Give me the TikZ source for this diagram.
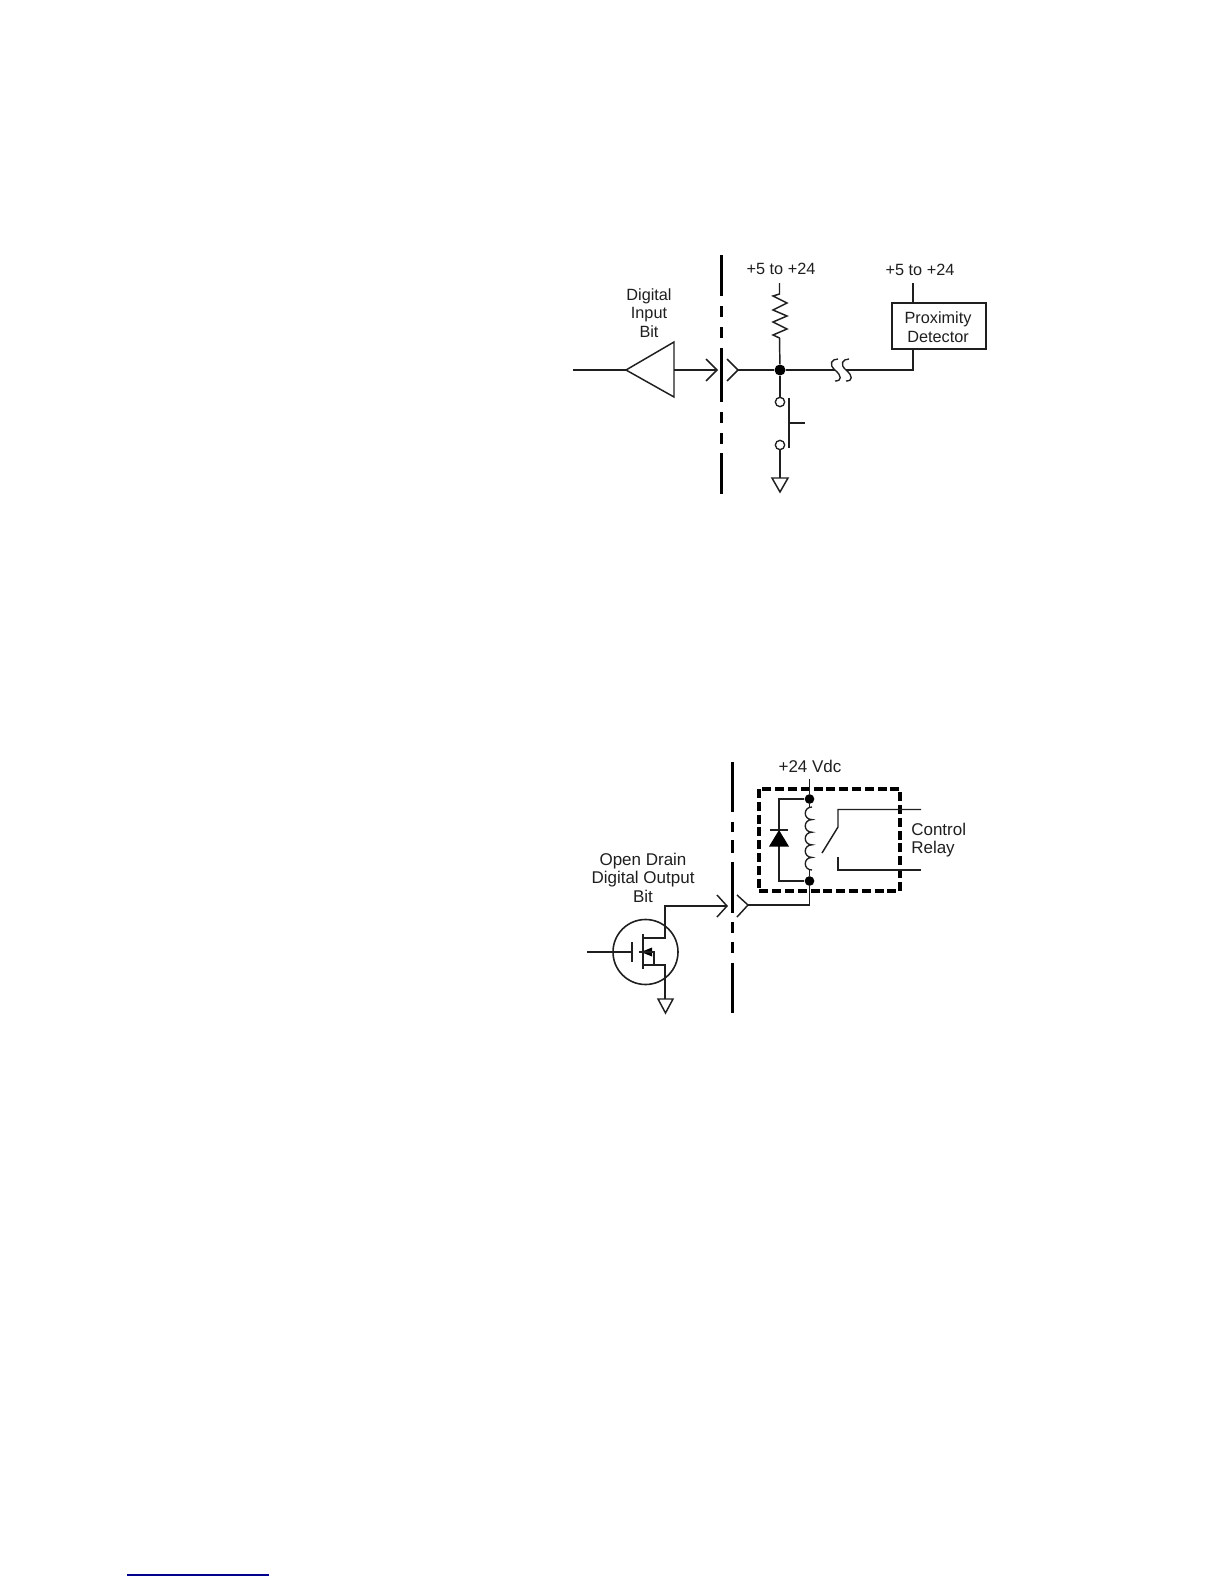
\documentclass[tikz,border=0pt]{standalone}
\usepackage{fontspec}
\setmainfont{Liberation Sans}
\definecolor{ink}{gray}{0.12}
\definecolor{linkblue}{RGB}{0,0,140}
\tikzset{
  wire/.style={draw=ink,line width=1.1pt,line join=miter},
  thin wire/.style={draw=ink,line width=1pt},
  heavy/.style={draw=black,line width=2.5pt},
  dot/.style={circle,fill=black,draw=none,minimum size=8.25pt,inner sep=0pt},
  smalldot/.style={circle,fill=black,draw=none,minimum size=7.25pt,inner sep=0pt},
  pin/.style={circle,draw=ink,fill=white,line width=1pt,minimum size=7pt,inner sep=0pt},
  lbl/.style={font=\fontsize{12.2}{13.9}\selectfont,align=center,inner sep=0pt,text=ink},
  lblb/.style={font=\fontsize{12.75}{13.9}\selectfont,align=center,inner sep=0pt,text=ink},
  lbll/.style={font=\fontsize{12.75}{13.9}\selectfont,align=left,inner sep=0pt,text=ink},
  box/.style={draw=ink,line width=1.2pt,rectangle,inner sep=0pt},
  dashbox/.style={draw=black,line width=2.5pt,dash pattern=on 6.8pt off 2.8pt}
}
\begin{document}
\begin{tikzpicture}[x=0.75pt,y=-0.75pt]
\useasboundingbox (0,0) rectangle (1224,1584);
% ---- upper diagram ----
\foreach \a/\b in {255/296,306/317,327/338,348/402,412/423,433/444,453/494}
  \draw[heavy] (721.5,\a) -- (721.5,\b);
\coordinate (inL) at (573,370);
\coordinate (triA) at (626,370);
\coordinate (triT) at (674,342);
\coordinate (triB) at (674,397);
\coordinate (triO) at (674,370);
\coordinate (chevL) at (717,370);
\coordinate (chevR) at (738,370);
\node[dot] (J1) at (780,370) {};
\node[pin] (P1) at (780,402) {};
\node[pin] (P2) at (780,445) {};
\node[box,minimum width=70.5pt,minimum height=34.5pt] (PD) at (939,326) {};
\node[lbl] (PDt) at (938,327) {Proximity\\Detector};
\coordinate (PDbot) at (913,349);
\coordinate (PDtop) at (913,303);
\coordinate (PDvcc) at (913,283);
\coordinate (PDcorner) at (913,370);
\draw[wire] (inL) -- (triA);
\draw[wire] (triA) -- (triT) -- (triB) -- cycle;
\draw[wire] (triO) -- (chevL);
\draw[wire] (706,359) -- (chevL) -- (706,381);
\draw[wire] (727,359) -- (chevR) -- (727,381);
\draw[wire] (chevR) -- (J1);
\draw[wire] (779.5,283) -- (779.5,294) -- (773,296) -- (787,303) -- (773,310) -- (787,316) -- (773,322) -- (787,329) -- (773,335) -- (779.5,338) -- (J1);
\draw[wire] (J1) -- (P1);
\draw[wire] (P2) -- (780,478);
\draw[wire] (772,478) -- (788,478) -- (780,492) -- cycle;
\draw[wire] (789,398) -- (789,448);
\draw[wire] (789,423) -- (805,423);
\draw[wire] (J1) -- (835,370);
\draw[thin wire] (838,359) .. controls (832,359) and (828,364) .. (835,370) .. controls (842,376) and (842,381) .. (835,381);
\draw[thin wire] (849,359) .. controls (843,359) and (839,364) .. (846,370) .. controls (853,376) and (853,381) .. (846,381);
\draw[wire] (846,370) -- (PDcorner) -- (PDbot);
\draw[wire] (PDvcc) -- (PDtop);
\node[lbl] (V1) at (781,269) {+5 to +24};
\node[lbl] (V2) at (920,270) {+5 to +24};
\node[lbl] (DI) at (649,313) {Digital\\Input\\Bit};
% ---- lower diagram ----
\foreach \a/\b in {762/812,822/832,840/853,862/913,922/933,942/953,963/1013}
  \draw[heavy] (732.5,\a) -- (732.5,\b);
\node[draw=ink,line width=1.2pt,circle,minimum size=48.75pt,inner sep=0pt] (Q) at (645.5,952) {};
\coordinate (gateIn) at (587,952);
\coordinate (gate) at (632,952);
\draw[wire] (gateIn) -- (gate);
\draw[wire] (632,942) -- (632,962);
\draw[wire] (643,934) -- (643,969);
\draw[wire] (643,938) -- (665,938) -- (665,906) -- (727,906);
\draw[wire] (717,895) -- (727,906) -- (717,917);
\draw[wire] (737,895) -- (748,905) -- (737,917);
\fill[black] (641,952) -- (652,947.5) -- (652,956.5) -- cycle;
\draw[wire] (639,952) -- (654,952) -- (654,965);
\draw[wire] (643,965) -- (665,965) -- (665,999);
\draw[wire] (658,999) -- (673,999) -- (665.5,1013) -- cycle;
\draw[dashbox] (759,789) rectangle (900,891);
\node[smalldot] (Ttop) at (809.5,799) {};
\node[smalldot] (Tbot) at (809.5,881) {};
\coordinate (Vcc) at (809.5,779);
\coordinate (chev2) at (748,905);
\coordinate (corner2) at (809.5,905);
\draw[wire] (chev2) -- (corner2) -- (Tbot);
\draw[wire] (Vcc) -- (Ttop);
\draw[wire] (Ttop) -- (779,799) -- (779,830);
\draw[wire] (779,846) -- (779,881) -- (Tbot);
\draw[wire] (770,830) -- (788,830);
\fill[black] (779,830) -- (789,846.5) -- (769,846.5) -- cycle;
\draw[wire] (Ttop) -- (809.5,807);
\draw[thin wire] (812,807)
  .. controls (803,807) and (803,819.6) .. (812,819.6)
  .. controls (803,819.6) and (803,832.2) .. (812,832.2) .. controls (803,832.2) and (803,844.8) .. (812,844.8)
  .. controls (803,844.8) and (803,857.4) .. (812,857.4) .. controls (803,857.4) and (803,870) .. (812,870);
\draw[wire] (809.5,870) -- (Tbot);
\draw[wire] (921,809.5) -- (838,809.5) -- (838,827) -- (822,853);
\draw[wire] (838,857) -- (838,870) -- (921,870);
\node[lblb] (V3) at (810,766) {+24 Vdc};
\node[lbll,anchor=west] (CR) at (911,840) {Control\\Relay};
\node[lblb] (OD) at (643,877.5) {Open Drain\\Digital Output\\Bit};
% ---- footnote rule ----
\coordinate (fnL) at (127,1575);
\coordinate (fnR) at (269,1575);
\draw[draw=linkblue,line width=0.9pt] (fnL) -- (fnR);
\end{tikzpicture}
\end{document}
